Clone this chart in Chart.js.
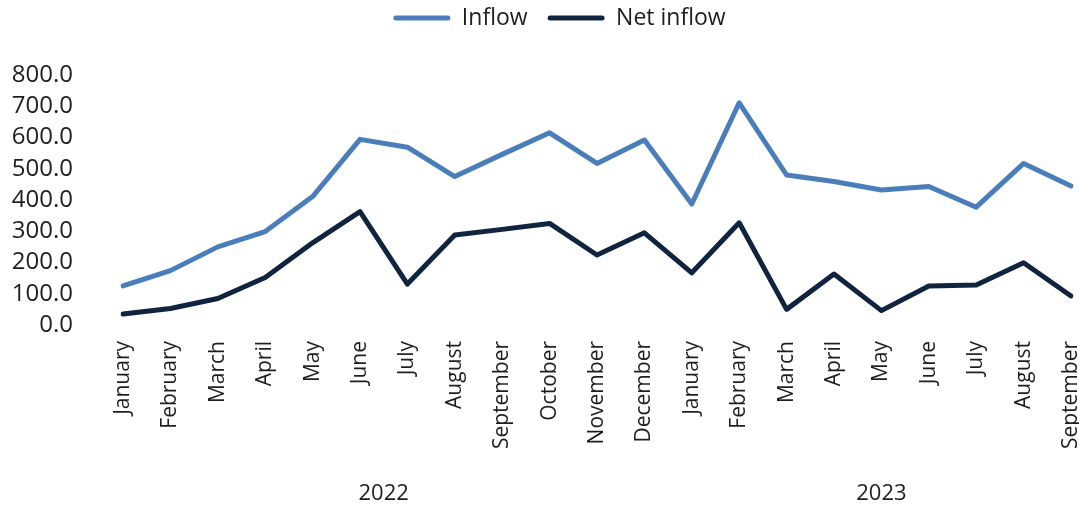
<!DOCTYPE html>
<html>
<head>
<meta charset="utf-8">
<script src="https://cdn.jsdelivr.net/npm/chart.js@4/dist/chart.umd.min.js"></script>
<style>
  html, body { margin: 0; padding: 0; background: #ffffff; }
  #wrap { width: 1079px; height: 508px; position: relative; }
  canvas { display: block; }
</style>
</head>
<body>
<div id="wrap"><canvas id="chart" width="1079" height="508"></canvas></div>
<script>
// Monthly categories, two years
const months = ['January','February','March','April','May','June','July','August','September','October','November','December',
                'January','February','March','April','May','June','July','August','September'];
const years = [
  { label: '2022', from: 0, to: 11 },
  { label: '2023', from: 12, to: 20 }
];
const inflow = [125, 174, 250, 299, 411, 594, 569, 475, 546, 615, 517, 592,
                387, 711, 480, 459, 432, 443, 377, 517, 445];
const netInflow = [35, 53, 85, 152, 263, 363, 131, 288, 306, 325, 224, 295,
                   167, 327, 50, 163, 46, 125, 128, 199, 93];
const yTicks = [0, 100, 200, 300, 400, 500, 600, 700, 800];

const FONT = "'Open Sans', sans-serif";
const TEXT = '#1e1e1e';
const BLUE = '#4a7ebb';
const NAVY = '#10243f';
const LEGEND_SIZE = 23;
const LEGEND_GAP = 20;

// Year captions centred under each group of months
const yearLabels = {
  id: 'yearLabels',
  afterDraw(chart) {
    const { ctx, scales: { x } } = chart;
    ctx.save();
    ctx.font = '22px ' + FONT;
    ctx.fillStyle = TEXT;
    ctx.textAlign = 'center';
    ctx.textBaseline = 'middle';
    years.forEach(y => {
      const cx = (x.getPixelForValue(y.from) + x.getPixelForValue(y.to)) / 2;
      ctx.fillText(y.label, cx, 494);
    });
    ctx.restore();
  }
};

// Keep the legend row at the very top, slightly right of the canvas centre
const legendPlacement = {
  id: 'legendPlacement',
  afterLayout(chart) {
    const lg = chart.legend;
    const h = lg.bottom - lg.top;
    lg.top = 18 - LEGEND_GAP - LEGEND_SIZE / 2;
    lg.bottom = lg.top + h;
    lg.left = 40;
  }
};

new Chart(document.getElementById('chart'), {
  type: 'line',
  data: {
    labels: months,
    datasets: [
      { label: 'Inflow', data: inflow, borderColor: BLUE, backgroundColor: BLUE },
      { label: 'Net inflow', data: netInflow, borderColor: NAVY, backgroundColor: NAVY }
    ]
  },
  options: {
    responsive: false,
    animation: false,
    devicePixelRatio: 1,
    layout: { padding: 0 },
    elements: {
      line: { borderWidth: 5, tension: 0, borderCapStyle: 'round', borderJoinStyle: 'round', fill: false },
      point: { radius: 0, hoverRadius: 0 }
    },
    plugins: {
      tooltip: { enabled: false },
      legend: {
        position: 'top',
        align: 'center',
        labels: {
          font: { family: FONT, size: LEGEND_SIZE },
          color: TEXT,
          boxWidth: 57,
          boxHeight: 5,
          padding: LEGEND_GAP,
          generateLabels(chart) {
            return Chart.defaults.plugins.legend.labels.generateLabels(chart).map(item => {
              const ds = chart.data.datasets[item.datasetIndex];
              return Object.assign(item, { fillStyle: ds.borderColor, lineWidth: 0, borderRadius: 2.5 });
            });
          }
        }
      }
    },
    scales: {
      x: {
        type: 'category',
        offset: false,
        grid: { display: false, drawTicks: false },
        border: { display: false },
        ticks: {
          autoSkip: false,
          minRotation: 90,
          maxRotation: 90,
          padding: 16,
          color: TEXT,
          font: { family: FONT, size: 21 }
        },
        afterFit(scale) {
          scale.height = 183;
          scale.paddingLeft = 0;
          scale.paddingRight = 8;
        }
      },
      y: {
        min: 0,
        max: 800,
        afterBuildTicks(scale) { scale.ticks = yTicks.map(v => ({ value: v })); },
        grid: { display: false, drawTicks: false },
        border: { display: false },
        ticks: {
          autoSkip: false,
          padding: 50,
          color: TEXT,
          font: { family: FONT, size: 24 },
          callback: v => Number(v).toFixed(1)
        },
        afterFit(scale) {
          scale.width = 123;
          scale.paddingTop = 75;
        }
      }
    }
  },
  plugins: [yearLabels, legendPlacement]
});
</script>
</body>
</html>
